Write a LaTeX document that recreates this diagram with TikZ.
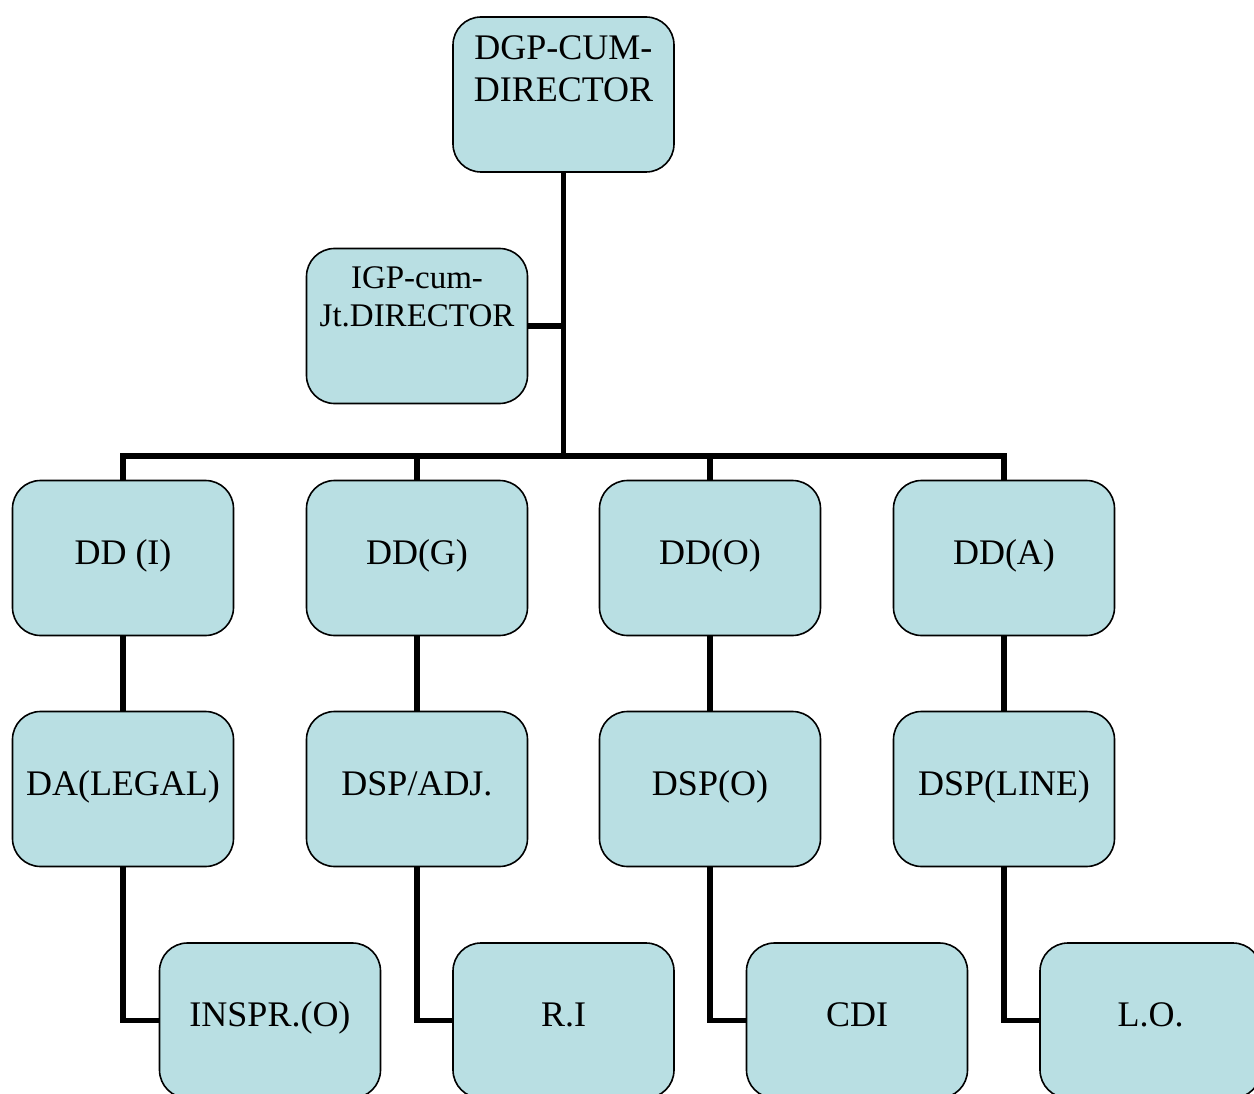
\documentclass[tikz,border=0pt]{standalone}
\usepackage{fontspec}
\setmainfont{Liberation Serif}
\definecolor{boxfill}{HTML}{B9DFE3}
\begin{document}
\begin{tikzpicture}[x=1pt,y=-1pt,
  orgbox/.style={draw=black, line width=1.6pt, fill=boxfill, rounded corners=28pt,
    minimum width=221pt, minimum height=155pt, inner sep=0pt,
    text height=12.6pt, text depth=0pt,
    font=\fontsize{36}{42}\selectfont},
  plainbox/.style={draw=black, line width=1.6pt, fill=boxfill, rounded corners=28pt,
    minimum width=221pt, minimum height=155pt, inner sep=0pt},
  toptext/.style={anchor=north, inner sep=0pt, align=center},
  link/.style={line width=5.5pt, line join=miter}]
\useasboundingbox (0,0) rectangle (1254,1094);
\clip (0,0) rectangle (1254,1094);
% top boxes
\node[plainbox] (dgp) at (563.5,94.5) {};
\node[toptext, font=\fontsize{36}{42}\selectfont] (dgpt) at (563.5,35) {DGP-CUM-\\DIRECTOR};
\node[plainbox] (igp) at (417,326) {};
\node[toptext, font=\fontsize{33}{38}\selectfont] (igpt) at (417,266) {IGP-cum-\\Jt.DIRECTOR};
% row 1
\node[orgbox] (ddi) at (123,558) {DD (I)};
\node[orgbox] (ddg) at (417,558) {DD(G)};
\node[orgbox] (ddo) at (710,558) {DD(O)};
\node[orgbox] (dda) at (1004,558) {DD(A)};
% row 2
\node[orgbox] (dal) at (123,789) {DA(LEGAL)};
\node[orgbox] (dsa) at (417,789) {DSP/ADJ.};
\node[orgbox] (dso) at (710,789) {DSP(O)};
\node[orgbox] (dsl) at (1004,789) {DSP(LINE)};
% row 3
\node[orgbox] (ins) at (270,1020.5) {INSPR.(O)};
\node[orgbox] (ri)  at (563.5,1020.5) {R.I};
\node[orgbox] (cdi) at (857,1020.5) {CDI};
\node[orgbox] (lo)  at (1150.5,1020.5) {L.O.};
% connectors
\coordinate (hub) at (563.5,456);
\draw[link] (dgp.south) -- (hub);
\draw[link] (igp.east) -- (igp.east -| hub);
\draw[link] (ddi.north) |- (hub) -| (dda.north);
\draw[link] (ddg.north) -- (ddg.north |- hub);
\draw[link] (ddo.north) -- (ddo.north |- hub);
\draw[link] (ddi.south) -- (dal.north);
\draw[link] (ddg.south) -- (dsa.north);
\draw[link] (ddo.south) -- (dso.north);
\draw[link] (dda.south) -- (dsl.north);
\draw[link] (dal.south) |- (ins.west);
\draw[link] (dsa.south) |- (ri.west);
\draw[link] (dso.south) |- (cdi.west);
\draw[link] (dsl.south) |- (lo.west);
\end{tikzpicture}
\end{document}
